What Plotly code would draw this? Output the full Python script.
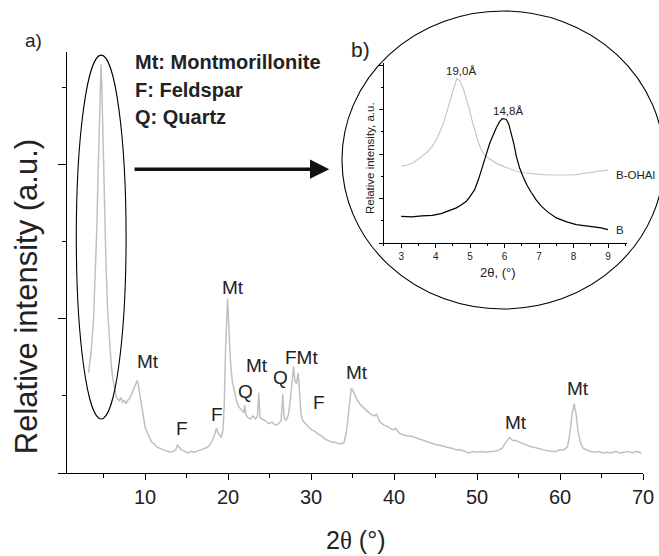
import plotly.graph_objects as go

# ---------------- main XRD pattern (a) ----------------
two_theta = [
    3.2, 3.5, 3.8, 4.0, 4.2, 4.35, 4.5, 4.6, 4.7, 4.8,
    4.9, 5.0, 5.15, 5.3, 5.5, 5.7, 5.9, 6.1, 6.3, 6.5,
    6.7, 6.9, 7.1, 7.3, 7.5, 7.7, 7.9, 8.1, 8.3, 8.5,
    8.7, 8.9, 9.05, 9.2, 9.4, 9.6, 9.8, 10.0, 10.2, 10.5,
    10.8, 11.1, 11.4, 11.8, 12.2, 12.6, 13.0, 13.4, 13.7, 13.9,
    14.1, 14.4, 14.8, 15.2, 15.6, 16.0, 16.4, 16.8, 17.2, 17.6,
    17.9, 18.2, 18.45, 18.6, 18.8, 19.0, 19.2, 19.4, 19.55, 19.7,
    19.85, 19.95, 20.1, 20.3, 20.5, 20.8, 21.0, 21.3, 21.6, 21.9,
    22.0, 22.15, 22.4, 22.7, 23.0, 23.3, 23.55, 23.7, 23.85, 24.1,
    24.5, 24.9, 25.3, 25.7, 26.1, 26.4, 26.6, 26.75, 27.0, 27.3,
    27.55, 27.75, 27.9, 28.05, 28.25, 28.45, 28.6, 28.8, 29.0, 29.3,
    29.7, 30.1, 30.5, 30.9, 31.3, 31.7, 32.1, 32.5, 32.9, 33.3,
    33.7, 34.0, 34.3, 34.6, 34.85, 35.0, 35.3, 35.6, 36.0, 36.4,
    36.8, 37.2, 37.6, 37.9, 38.3, 38.8, 39.3, 39.8, 40.2, 40.6,
    41.0, 41.5, 42.0, 42.5, 43.0, 43.5, 44.0, 44.5, 45.0, 45.5,
    46.0, 46.5, 47.0, 47.5, 48.0, 48.5, 49.0, 49.5, 50.0, 50.5,
    51.0, 51.5, 52.0, 52.5, 53.0, 53.5, 53.9, 54.3, 54.7, 55.1,
    55.5, 56.0, 56.5, 57.0, 57.5, 58.0, 58.5, 59.0, 59.5, 60.0,
    60.5, 60.9, 61.2, 61.45, 61.7, 61.95, 62.2, 62.5, 62.8, 63.2,
    63.7, 64.2, 64.7, 65.2, 65.7, 66.2, 66.7, 67.2, 67.7, 68.2,
    68.7, 69.2, 69.8,
]
intensity = [
    0.65, 0.78, 1.0, 1.25, 1.6, 1.95, 2.3, 2.55, 2.65, 2.5,
    2.25, 2.0, 1.65, 1.35, 1.05, 0.85, 0.72, 0.62, 0.55, 0.5,
    0.48, 0.47, 0.49, 0.46, 0.47, 0.45, 0.47, 0.48, 0.5, 0.53,
    0.56, 0.59, 0.6, 0.57, 0.5, 0.42, 0.35, 0.3, 0.27, 0.23,
    0.2, 0.19, 0.17, 0.16, 0.15, 0.14, 0.135, 0.14, 0.15, 0.18,
    0.17, 0.15, 0.14, 0.13, 0.14, 0.135, 0.145, 0.15, 0.16, 0.17,
    0.19, 0.22, 0.26, 0.29, 0.26, 0.24, 0.23, 0.28, 0.45, 0.8,
    1.1, 1.13, 0.95, 0.72, 0.6, 0.52, 0.47, 0.43, 0.41, 0.39,
    0.44, 0.38, 0.36, 0.35, 0.37, 0.35, 0.37, 0.52, 0.36, 0.35,
    0.34, 0.32, 0.33, 0.31, 0.32, 0.34, 0.51, 0.36, 0.34, 0.38,
    0.5, 0.64, 0.69, 0.6, 0.58, 0.65, 0.5, 0.38, 0.34, 0.32,
    0.3, 0.28, 0.27, 0.25, 0.24, 0.22, 0.21, 0.2, 0.2, 0.19,
    0.19, 0.2, 0.28, 0.45, 0.55, 0.54, 0.5, 0.47, 0.44, 0.42,
    0.4, 0.38, 0.37, 0.38, 0.33, 0.31, 0.3, 0.28, 0.29, 0.26,
    0.25, 0.24, 0.24, 0.23, 0.22, 0.21, 0.2, 0.19, 0.185, 0.18,
    0.17, 0.165, 0.16, 0.15, 0.15, 0.14, 0.13, 0.14, 0.135, 0.14,
    0.135, 0.14, 0.14, 0.145, 0.16, 0.2, 0.23, 0.21, 0.21, 0.2,
    0.19, 0.18, 0.17, 0.165, 0.155, 0.15, 0.145, 0.14, 0.14, 0.15,
    0.15, 0.17, 0.26, 0.38, 0.45, 0.38, 0.26, 0.19, 0.16, 0.15,
    0.14, 0.135, 0.14, 0.13, 0.135, 0.13, 0.14, 0.13, 0.135, 0.14,
    0.13, 0.14, 0.13,
]

# peak labels (text, 2theta, height)
peak_labels = ["Mt", "Mt", "F", "F", "Mt", "Q", "Mt", "Q", "FMt", "F", "Mt", "Mt", "Mt"]
peak_label_x = [4.84, 10.36, 14.45, 18.65, 20.56, 22.1, 23.45, 26.3, 28.85, 31.0, 35.6, 54.7, 62.2]
peak_label_y = [2.80, 0.72, 0.286, 0.377, 1.20, 0.53, 0.695, 0.617, 0.747, 0.46, 0.65, 0.33, 0.545]

main_xticks = [10, 20, 30, 40, 50, 60, 70]
legend_lines = ["Mt: Montmorillonite", "F: Feldspar", "Q: Quartz"]

# ---------------- inset (b) ----------------
boh_x = [3.0, 3.15, 3.34, 3.5, 3.73, 3.9, 4.02, 4.15, 4.26, 4.35,
         4.45, 4.55, 4.62, 4.7, 4.79, 4.88, 4.98, 5.05, 5.13, 5.22,
         5.32, 5.42, 5.52, 5.66, 5.8, 5.95, 6.15, 6.34, 6.55, 6.82,
         7.1, 7.35, 7.6, 7.85, 8.08, 8.3, 8.57, 8.8, 9.0]
boh_y = [3.46, 3.5, 3.6, 3.8, 4.06, 4.35, 4.66, 5.1, 5.56, 6.05,
         6.6, 7.1, 7.4, 7.3, 7.0, 6.55, 6.0, 5.55, 5.1, 4.6,
         4.2, 3.95, 3.83, 3.68, 3.55, 3.46, 3.33, 3.23, 3.16, 3.11,
         3.08, 3.06, 3.05, 3.06, 3.08, 3.12, 3.19, 3.25, 3.28]
b_x = [3.0, 3.3, 3.6, 3.9, 4.16, 4.4, 4.6, 4.75, 4.89, 5.0,
       5.13, 5.25, 5.37, 5.47, 5.57, 5.67, 5.76, 5.85, 5.93, 6.0,
       6.05, 6.12, 6.19, 6.27, 6.34, 6.43, 6.53, 6.65, 6.78, 6.92,
       7.07, 7.25, 7.5, 7.8, 8.08, 8.35, 8.57, 8.8, 9.0]
b_y = [1.2, 1.18, 1.22, 1.24, 1.32, 1.45, 1.58, 1.72, 1.88, 2.1,
       2.4, 2.9, 3.46, 4.0, 4.5, 4.9, 5.19, 5.45, 5.6, 5.58,
       5.56, 5.35, 4.96, 4.45, 3.9, 3.4, 3.0, 2.6, 2.26, 1.93,
       1.65, 1.4, 1.13, 0.95, 0.83, 0.77, 0.72, 0.68, 0.6]
inset_xticks = [3, 4, 5, 6, 7, 8, 9]
inset_labels = ["19,0Å", "14,8Å", "B-OHAl", "B"]
inset_label_x = [4.74, 6.10, 9.17, 9.17]
inset_label_y = [7.74, 5.94, 3.08, 0.6]
inset_label_anchor = ["center", "center", "left", "left"]

FONT = "Liberation Sans, Arial, Helvetica, sans-serif"
GREY = "#c0c0c0"
TXT = "#222"


def paper_text(x, y, text, size, angle=0, xanchor="center"):
    return dict(x=x, y=y, xref="paper", yref="paper", text=text, showarrow=False,
                xanchor=xanchor, yanchor="middle", textangle=angle,
                font=dict(family=FONT, size=size, color=TXT))


fig = go.Figure()
fig.add_trace(go.Scatter(x=two_theta, y=intensity, mode="lines",
                         line=dict(color=GREY, width=1.5), showlegend=False,
                         xaxis="x", yaxis="y"))
fig.add_trace(go.Scatter(x=boh_x, y=boh_y, mode="lines",
                         line=dict(color="#c8c8c8", width=1.2), showlegend=False,
                         xaxis="x2", yaxis="y2"))
fig.add_trace(go.Scatter(x=b_x, y=b_y, mode="lines",
                         line=dict(color="black", width=1.2), showlegend=False,
                         xaxis="x2", yaxis="y2"))

annotations = []
for t, x, y in zip(peak_labels, peak_label_x, peak_label_y):
    annotations.append(dict(x=x, y=y, xref="x", yref="y", text=t, showarrow=False,
                            xanchor="center", yanchor="middle",
                            font=dict(family=FONT, size=19, color=TXT)))
for i, t in enumerate(legend_lines):
    annotations.append(paper_text(0.1146, [0.976, 0.91, 0.8456][i], "<b>" + t + "</b>", 20,
                                  xanchor="left"))
for t, x, y, a in zip(inset_labels, inset_label_x, inset_label_y, inset_label_anchor):
    annotations.append(dict(x=x, y=y, xref="x2", yref="y2", text=t, showarrow=False,
                            xanchor=a, yanchor="middle",
                            font=dict(family=FONT, size=11.5, color=TXT)))
# arrow
annotations.append(dict(x=32.2, y=1.97, ax=8.56, ay=1.97, xref="x", yref="y",
                        axref="x", ayref="y", text="", showarrow=True,
                        arrowhead=2, arrowsize=1.1, arrowwidth=3.5, arrowcolor="#111"))
# panel letters and titles
annotations += [
    paper_text(-0.0573, 1.0285, "a)", 19),
    paper_text(0.5087, 1.007, "b)", 21),
    paper_text(-0.0712, 0.42, "Relative intensity (a.u.)", 31, angle=-90),
    paper_text(0.5, -0.159, "2<span style='font-family:Liberation Serif'>θ</span> (°)", 25),
    paper_text(0.526, 0.748, "Relative intensity, a.u.", 11.5, angle=-90),
    paper_text(0.748, 0.477, "2θ, (°)", 13),
]

shapes = [
    # ellipse around the basal peak
    dict(type="circle", xref="x", yref="y", x0=1.72, x1=7.72, y0=0.35, y1=2.71,
         line=dict(color="black", width=1.1)),
    # circle around inset
    dict(type="circle", xref="paper", yref="paper", x0=0.4774, x1=1.0365, y0=0.3895, y1=1.0974,
         line=dict(color="black", width=1.1)),
]

fig.update_layout(
    width=659, height=556,
    margin=dict(l=67, r=16, t=52, b=83),
    paper_bgcolor="white", plot_bgcolor="white",
    font=dict(family=FONT, color=TXT),
    annotations=annotations, shapes=shapes,
    xaxis=dict(domain=[0, 1], range=[0.6, 70], showgrid=False, zeroline=False,
               showline=True, linecolor="black", linewidth=1.3, automargin=False,
               tickmode="array", tickvals=main_xticks, ticks="outside", ticklen=6,
               tickcolor="black", tickwidth=1.2, tickfont=dict(size=20, family=FONT, color=TXT),
               minor=dict(dtick=5, tick0=0, ticks="outside", ticklen=4, tickcolor="black", tickwidth=1.2)),
    yaxis=dict(domain=[0, 1], range=[0, 2.73], showgrid=False, zeroline=False,
               showline=True, linecolor="black", linewidth=1.3, showticklabels=False,
               automargin=False,
               dtick=1, tick0=0, ticks="outside", ticklen=8, tickcolor="black", tickwidth=1.2,
               minor=dict(dtick=0.5, tick0=0, ticks="outside", ticklen=4, tickcolor="black", tickwidth=1.2)),
    xaxis2=dict(domain=[0.5503, 0.9722], anchor="y2", range=[2.5, 9.55], showgrid=False,
                zeroline=False, showline=True, linecolor="black", linewidth=1, automargin=False,
                tickmode="array", tickvals=inset_xticks, ticks="outside", ticklen=4,
                tickcolor="black", tickwidth=1, tickfont=dict(size=10, family=FONT, color=TXT),
                minor=dict(dtick=0.5, tick0=0, ticks="outside", ticklen=2, tickcolor="black", tickwidth=1)),
    yaxis2=dict(domain=[0.5463, 0.9739], anchor="x2", range=[0, 8.1], showgrid=False,
                zeroline=False, showline=True, linecolor="black", linewidth=1,
                showticklabels=False, automargin=False, dtick=2, tick0=0, ticks="outside", ticklen=4,
                tickcolor="black", tickwidth=1,
                minor=dict(dtick=1, tick0=0, ticks="outside", ticklen=2, tickcolor="black", tickwidth=1)),
)

fig.write_html("out.html")
